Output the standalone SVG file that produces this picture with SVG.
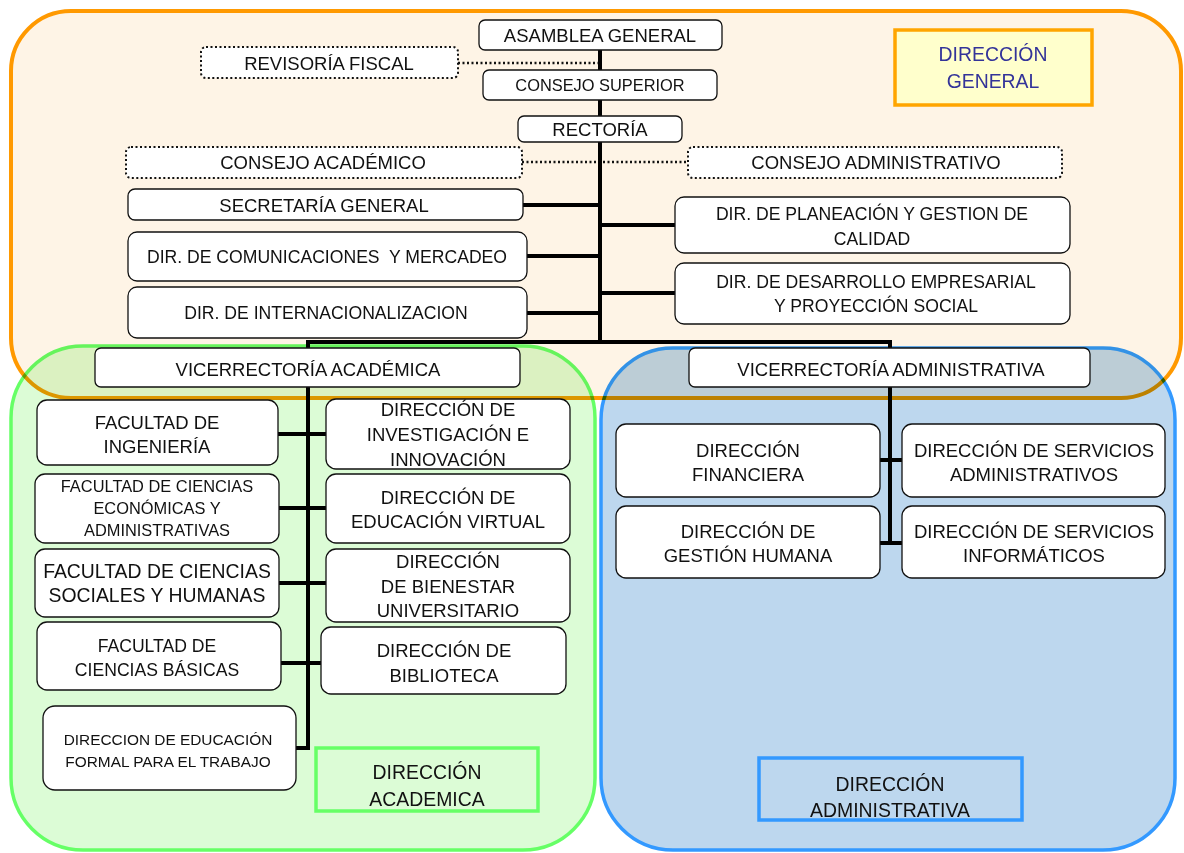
<svg xmlns="http://www.w3.org/2000/svg" width="1184" height="853" viewBox="0 0 1184 853">
<style>
text{font-family:"Liberation Sans",Arial,sans-serif;fill:#111;text-anchor:middle}
.box{fill:#fff;stroke:#111;stroke-width:1.3}
.dot{fill:#fff;stroke:#111;stroke-width:2;stroke-dasharray:2 2.5}
.ln{stroke:#000;stroke-width:4;fill:none;stroke-linecap:square}
.dl{stroke:#111;stroke-width:2.5;stroke-dasharray:2 2.5;fill:none}
.f18{font-size:18.5px}.f17{font-size:17.6px}.f16{font-size:16.4px}.f15{font-size:15.4px}.f19{font-size:19.4px}
.reg{mix-blend-mode:multiply}
</style>
<rect width="1184" height="853" fill="#fff"/>
<g id="region-general">
<rect x="11" y="11" width="1170" height="387" rx="60" fill="#FEF4E6" stroke="#FF9900" stroke-width="4"/>
</g>
<g id="region-academica" class="reg">
<rect x="11" y="346" width="584" height="504" rx="72" fill="#DCFCD6" stroke="#66FF66" stroke-width="3.5"/>
</g>
<g id="region-administrativa" class="reg">
<rect x="601" y="348" width="574" height="502" rx="72" fill="#BDD7EE" stroke="#3399FF" stroke-width="3.5"/>
</g>
<g id="connectors">
<path class="dl" d="M458 63H600M522 162H688"/>
<path class="ln" d="M600 50V70M600 100V116M600 142V342M523 205H600M527 256H600M527 313H600M600 225H675M600 293H675M308 342H890M308 342V348M890 342V348"/>
<path class="ln" d="M308 387V748H296M278 434H326M279 508H326M279 583H326M281 663H321"/>
<path class="ln" d="M890 387V543M880 460H902M880 543H902"/>
</g>
<g id="n-asamblea"><rect class="box" x="479" y="20" width="243" height="30" rx="6"/><text class="f18" x="600" y="42">ASAMBLEA GENERAL</text></g>
<g id="n-revisoria"><rect class="dot" x="201" y="47" width="257" height="31" rx="5"/><text class="f18" x="329" y="70">REVISORÍA FISCAL</text></g>
<g id="n-consejo-superior"><rect class="box" x="483" y="70" width="234" height="30" rx="6"/><text class="f16" x="600" y="91">CONSEJO SUPERIOR</text></g>
<g id="n-rectoria"><rect class="box" x="518" y="116" width="164" height="26" rx="6"/><text class="f18" x="600" y="136">RECTORÍA</text></g>
<g id="n-consejo-academico"><rect class="dot" x="126" y="147" width="396" height="31" rx="5"/><text class="f18" x="323" y="169">CONSEJO ACADÉMICO</text></g>
<g id="n-consejo-administrativo"><rect class="dot" x="688" y="147" width="374" height="31" rx="5"/><text class="f18" x="876" y="169">CONSEJO ADMINISTRATIVO</text></g>
<g id="n-secretaria"><rect class="box" x="128" y="189" width="395" height="31" rx="7"/><text class="f18" x="324" y="212">SECRETARÍA GENERAL</text></g>
<g id="n-comunicaciones"><rect class="box" x="128" y="232" width="399" height="49" rx="9"/><text class="f17" x="327" y="263" xml:space="preserve">DIR. DE COMUNICACIONES  Y MERCADEO</text></g>
<g id="n-internacionalizacion"><rect class="box" x="128" y="287" width="399" height="51" rx="9"/><text class="f17" x="326" y="319">DIR. DE INTERNACIONALIZACION</text></g>
<g id="n-planeacion"><rect class="box" x="675" y="197" width="395" height="56" rx="9"/><text class="f17" x="872" y="220">DIR. DE PLANEACIÓN Y GESTION DE</text><text class="f17" x="872" y="245">CALIDAD</text></g>
<g id="n-desarrollo"><rect class="box" x="675" y="263" width="395" height="61" rx="9"/><text class="f17" x="876" y="288">DIR. DE DESARROLLO EMPRESARIAL</text><text class="f17" x="876" y="312">Y PROYECCIÓN SOCIAL</text></g>
<g id="n-vice-academica"><rect class="box" x="95" y="348" width="425" height="39" rx="6"/><text class="f18" x="308" y="376">VICERRECTORÍA ACADÉMICA</text></g>
<g id="n-vice-administrativa"><rect class="box" x="689" y="348" width="401" height="39" rx="6"/><text class="f18" x="891" y="376">VICERRECTORÍA ADMINISTRATIVA</text></g>
<g id="n-ingenieria"><rect class="box" x="37" y="400" width="241" height="65" rx="10"/><text class="f18" x="157" y="429">FACULTAD DE</text><text class="f18" x="157" y="453">INGENIERÍA</text></g>
<g id="n-economicas"><rect class="box" x="35" y="474" width="244" height="69" rx="10"/><text class="f16" x="157" y="492">FACULTAD DE CIENCIAS</text><text class="f16" x="157" y="514">ECONÓMICAS Y</text><text class="f16" x="157" y="536">ADMINISTRATIVAS</text></g>
<g id="n-sociales"><rect class="box" x="35" y="549" width="244" height="68" rx="10"/><text class="f19" x="157" y="578">FACULTAD DE CIENCIAS</text><text class="f19" x="157" y="602">SOCIALES Y HUMANAS</text></g>
<g id="n-basicas"><rect class="box" x="37" y="622" width="244" height="68" rx="10"/><text class="f17" x="157" y="652">FACULTAD DE</text><text class="f17" x="157" y="676">CIENCIAS BÁSICAS</text></g>
<g id="n-formal"><rect class="box" x="43" y="706" width="253" height="84" rx="12"/><text class="f15" x="168" y="745">DIRECCION DE EDUCACIÓN</text><text class="f15" x="168" y="767">FORMAL PARA EL TRABAJO</text></g>
<g id="n-investigacion"><rect class="box" x="326" y="399" width="244" height="70" rx="10"/><text class="f18" x="448" y="416">DIRECCIÓN DE</text><text class="f18" x="448" y="441">INVESTIGACIÓN E</text><text class="f18" x="448" y="466">INNOVACIÓN</text></g>
<g id="n-virtual"><rect class="box" x="326" y="474" width="244" height="69" rx="10"/><text class="f18" x="448" y="504">DIRECCIÓN DE</text><text class="f18" x="448" y="528">EDUCACIÓN VIRTUAL</text></g>
<g id="n-bienestar"><rect class="box" x="326" y="549" width="244" height="73" rx="10"/><text class="f18" x="448" y="568">DIRECCIÓN</text><text class="f18" x="448" y="593">DE BIENESTAR</text><text class="f18" x="448" y="617">UNIVERSITARIO</text></g>
<g id="n-biblioteca"><rect class="box" x="321" y="627" width="245" height="67" rx="10"/><text class="f18" x="444" y="657">DIRECCIÓN DE</text><text class="f18" x="444" y="682">BIBLIOTECA</text></g>
<g id="lbl-academica"><rect x="316" y="748" width="222" height="63" fill="none" stroke="#66FF66" stroke-width="3.5"/><text class="f19" x="427" y="779">DIRECCIÓN</text><text class="f19" x="427" y="806">ACADEMICA</text></g>
<g id="n-financiera"><rect class="box" x="616" y="424" width="264" height="73" rx="10"/><text class="f18" x="748" y="457">DIRECCIÓN</text><text class="f18" x="748" y="481">FINANCIERA</text></g>
<g id="n-serv-admin"><rect class="box" x="902" y="424" width="263" height="73" rx="10"/><text class="f18" x="1034" y="457">DIRECCIÓN DE SERVICIOS</text><text class="f18" x="1034" y="481">ADMINISTRATIVOS</text></g>
<g id="n-gestion-humana"><rect class="box" x="616" y="506" width="264" height="72" rx="10"/><text class="f18" x="748" y="538">DIRECCIÓN DE</text><text class="f18" x="748" y="562">GESTIÓN HUMANA</text></g>
<g id="n-serv-info"><rect class="box" x="902" y="506" width="263" height="72" rx="10"/><text class="f18" x="1034" y="538">DIRECCIÓN DE SERVICIOS</text><text class="f18" x="1034" y="562">INFORMÁTICOS</text></g>
<g id="lbl-administrativa"><rect x="759" y="758" width="263" height="62" fill="none" stroke="#3399FF" stroke-width="3.5"/><text class="f19" x="890" y="791">DIRECCIÓN</text><text class="f19" x="890" y="817">ADMINISTRATIVA</text></g>
<g id="lbl-general"><rect x="895" y="30" width="197" height="75" fill="#FFFFCC" stroke="#FFA500" stroke-width="3.5"/><text class="f19" x="993" y="61" style="fill:#333399">DIRECCIÓN</text><text class="f19" x="993" y="88" style="fill:#333399">GENERAL</text></g>
</svg>
